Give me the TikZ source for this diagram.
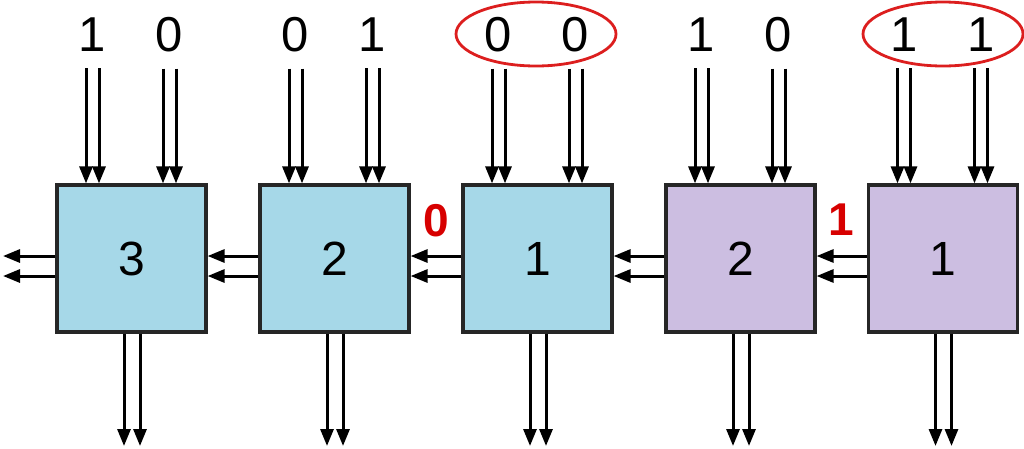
\documentclass[tikz,border=0pt]{standalone}
\usepackage{fontspec}
\setmainfont{Liberation Sans}
\usetikzlibrary{arrows.meta,shapes.geometric}
\definecolor{boxblue}{RGB}{166,216,232}
\definecolor{boxpurple}{RGB}{204,190,225}
\definecolor{lblred}{RGB}{215,0,0}
\definecolor{ellred}{RGB}{220,30,30}
\tikzset{
  cell/.style={draw=black!85, line width=3.2pt, minimum width=149pt, minimum height=147pt, inner sep=0pt, font=\fontsize{48}{50}\selectfont},
  bit/.style={inner sep=0pt, font=\fontsize{49}{50}\selectfont},
  carry/.style={inner sep=0pt, text=lblred, font=\bfseries\fontsize{46}{48}\selectfont},
  arr/.style={line width=3pt, -{Triangle[length=17pt,width=13pt]}},
  ring/.style={ellipse, draw=ellred, line width=2.8pt, minimum width=160pt, minimum height=64pt, inner sep=0pt}
}
\begin{document}
\begin{tikzpicture}[x=1pt,y=-1pt]
\useasboundingbox (0,0) rectangle (1024,448);
% boxes
\node[cell, fill=boxblue]   (bA) at (131.5,258.5) {3};
\node[cell, fill=boxblue]   (bB) at (334.5,258.5) {2};
\node[cell, fill=boxblue]   (bC) at (537.5,258.5) {1};
\node[cell, fill=boxpurple] (bD) at (740.5,258.5) {2};
\node[cell, fill=boxpurple] (bE) at (943,258.5) {1};
% input bits and arrows
\foreach \b/\l/\r in {bA/1/0, bB/0/1, bC/0/0, bD/1/0, bE/1/1}{
  \node[bit] (\b l) at ([xshift=-39pt]\b.north |- 0,35) {\l};
  \node[bit] (\b r) at ([xshift=38pt]\b.north |- 0,35) {\r};
  \foreach \d in {l,r}{
    \draw[arr] ([xshift=-6.5pt,yshift=-16pt]\b\d.south) coordinate (t) -- (t |- \b.north);
    \draw[arr] ([xshift=6.5pt,yshift=-16pt]\b\d.south) coordinate (t) -- (t |- \b.north);
  }
  % outputs at the bottom
  \coordinate (\b o1) at ([xshift=-7.5pt]\b.south |- 0,446);
  \coordinate (\b o2) at ([xshift=8.5pt]\b.south |- 0,446);
  \draw[arr] ([xshift=-7.5pt]\b.south) -- (\b o1);
  \draw[arr] ([xshift=8.5pt]\b.south) -- (\b o2);
}
% carries between boxes
\foreach \src/\dst in {bB/bA, bC/bB, bD/bC, bE/bD}{
  \draw[arr] ([yshift=2.5pt]\src.west) -- ([yshift=2.5pt]\dst.east);
  \draw[arr] ([yshift=-17.5pt]\src.west) -- ([yshift=-17.5pt]\dst.east);
}
\coordinate (outA) at (3,256);
\coordinate (outB) at (3,276);
\draw[arr] ([yshift=2.5pt]bA.west) -- (outA);
\draw[arr] ([yshift=-17.5pt]bA.west) -- (outB);
% red carry labels
\node[carry] (c0) at (436,221) {0};
\node[carry] (c1) at (841,220) {1};
% ellipses
\node[ring] (e1) at (536,34) {};
\node[ring] (e2) at (943,34) {};
\end{tikzpicture}
\end{document}
